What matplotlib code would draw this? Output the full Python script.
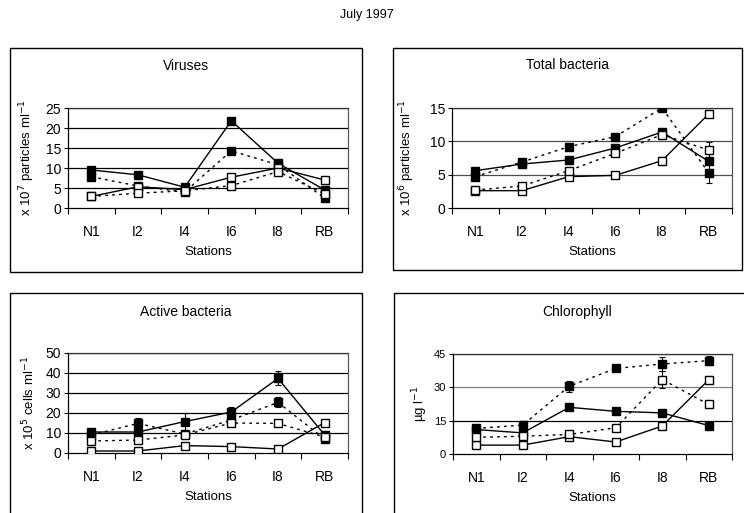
import numpy as np
import matplotlib
matplotlib.use("Agg")
import matplotlib.pyplot as plt
from matplotlib.patches import Rectangle

plt.rcParams["font.family"] = ["Liberation Sans", "DejaVu Sans"]

# ---------------------------------------------------------
# data
# ---------------------------------------------------------
stations = ["N1", "I2", "I4", "I6", "I8", "RB"]

# viruses (x 10^7 particles/ml)
vir_filled_solid = [9.5, 8.3, 5.2, 21.8, 11.2, 4.5]
vir_filled_dot   = [7.8, 5.5, 4.0, 14.3, 10.8, 2.5]
vir_open_solid   = [2.9, 5.3, 4.6, 7.7, 10.0, 7.0]
vir_open_dot     = [2.9, 3.7, 4.3, 5.6, 9.1, 3.5]

# total bacteria (x 10^6 particles/ml)
tot_filled_solid = [5.6, 6.6, 7.2, 9.0, 11.4, 7.0]
tot_filled_dot   = [4.7, 6.9, 9.2, 10.7, 15.0, 5.3]
tot_open_solid   = [2.6, 2.6, 4.7, 4.9, 7.1, 14.1]
tot_open_dot     = [2.7, 3.3, 5.6, 8.2, 11.0, 8.7]
tot_err_filled_solid = [0.3, 0.3, 0.3, 0.3, 0.3, 0.4]
tot_err_filled_dot   = [0.3, 0.3, 0.3, 0.3, 0.2, 1.5]
tot_err_open_solid   = [0.3, 0.3, 0.4, 0.3, 0.6, 0.3]
tot_err_open_dot     = [0.3, 0.5, 0.5, 0.4, 0.5, 1.2]

# active bacteria (x 10^5 cells/ml)
act_filled_solid = [10.5, 10.5, 15.7, 20.5, 37.3, 9.0]
act_filled_dot   = [9.0, 14.8, 9.5, 16.5, 25.3, 7.0]
act_open_solid   = [1.0, 1.0, 3.7, 3.2, 2.0, 15.2]
act_open_dot     = [6.0, 6.5, 9.0, 15.0, 14.8, 8.0]
act_err_filled_solid = [1.0, 1.0, 4.5, 2.5, 3.5, 1.0]
act_err_filled_dot   = [1.0, 2.5, 1.0, 1.0, 2.5, 1.0]
act_err_open_solid   = [0.6, 0.6, 0.8, 0.8, 0.6, 1.0]
act_err_open_dot     = [0.6, 0.8, 0.8, 0.8, 0.8, 0.8]

# chlorophyll (ug/l)
chl_filled_solid = [11.0, 9.5, 21.0, 19.2, 18.5, 12.8]
chl_filled_dot   = [11.5, 13.0, 30.5, 38.5, 40.5, 42.0]
chl_open_solid   = [4.0, 4.0, 7.8, 5.4, 12.6, 33.4]
chl_open_dot     = [7.5, 8.0, 8.8, 11.8, 33.5, 22.3]
chl_err_filled_solid = [0.8, 0.8, 1.0, 0.8, 0.8, 0.8]
chl_err_filled_dot   = [0.8, 2.0, 2.5, 0.8, 3.0, 2.0]
chl_err_open_solid   = [0.8, 0.8, 0.8, 0.8, 1.2, 1.5]
chl_err_open_dot     = [1.5, 0.8, 0.8, 1.0, 4.0, 1.5]

W, H = 744, 513
fig = plt.figure(figsize=(W / 100, H / 100), dpi=100)


def px_box(l, t, r, b):
    return [l / W, 1 - b / H, (r - l) / W, (b - t) / H]


def panel(box, frame, title, title_y, ylabel, ylim, yticks, series, errs,
          grid_colors, ylab_x, ytick_size=10):
    # outer frame of the panel
    fl, ft, fr, fb = frame
    fig.add_artist(Rectangle((fl / W, 1 - fb / H), (fr - fl) / W, (fb - ft) / H,
                             transform=fig.transFigure, fill=False,
                             edgecolor="black", lw=1.0))
    fig.text((fl + fr) / 2 / W, 1 - title_y / H, title, ha="center", va="center",
             fontsize=10)

    ax = fig.add_axes(px_box(*box))
    x = np.arange(len(stations))
    for yv, c in zip(yticks[1:], grid_colors):
        ax.axhline(yv, color=c, lw=0.9, zorder=1)

    styles = [("black", "-"), ("black", (0, (2, 3))),
              ("white", "-"), ("white", (0, (2, 3)))]
    for vals, err, (fc, ls) in zip(series, errs, styles):
        if err is not None:
            ax.errorbar(x, vals, yerr=err, fmt="none", ecolor="black",
                        elinewidth=0.8, capsize=2.5, capthick=0.8, zorder=3)
        ax.plot(x, vals, color="black", lw=1.0, ls=ls, marker="s",
                markersize=5.5, markerfacecolor=fc, markeredgecolor="black",
                markeredgewidth=1.0, zorder=4)

    ax.set_xlim(-0.5, len(stations) - 0.5)
    ax.set_ylim(*ylim)
    ax.set_yticks(yticks)
    ax.tick_params(axis="y", labelsize=ytick_size, length=3, width=0.8, pad=2)
    ax.set_xticks(x)
    ax.set_xticklabels(stations)
    ax.set_xticks(np.arange(-0.5, len(stations)), minor=True)
    ax.tick_params(axis="x", which="major", length=0, labelsize=10, pad=12)
    ax.tick_params(axis="x", which="minor", length=4, width=0.8)
    for sp in ax.spines.values():
        sp.set_linewidth(0.9)
    ax.spines["right"].set_color("0.35")
    ax.spines["top"].set_color("0.2")
    ax.set_xlabel("Stations", fontsize=9.5, labelpad=5)
    ax.set_ylabel(ylabel, fontsize=9.5)
    ax.yaxis.set_label_coords(ylab_x, 0.5)
    return ax


fig.text(367 / W, 1 - 15 / H, "July 1997", ha="center", va="center", fontsize=9)

panel((68, 108, 348, 208), (10, 48, 362, 272), "Viruses", 66,
      r"x 10$^{7}$ particles ml$^{-1}$", (0, 25), [0, 5, 10, 15, 20, 25],
      [vir_filled_solid, vir_filled_dot, vir_open_solid, vir_open_dot],
      [None, None, None, None], ["black"] * 5, -0.11)

panel((452, 108, 732, 208), (393, 48, 742, 270), "Total bacteria", 65,
      r"x 10$^{6}$ particles ml$^{-1}$", (0, 15), [0, 5, 10, 15],
      [tot_filled_solid, tot_filled_dot, tot_open_solid, tot_open_dot],
      [tot_err_filled_solid, tot_err_filled_dot, tot_err_open_solid, tot_err_open_dot],
      ["0.3", "0.3", "0.2"], -0.125)

panel((68, 353, 348, 453), (10, 293, 362, 530), "Active bacteria", 312,
      r"x 10$^{5}$ cells ml$^{-1}$", (0, 50), [0, 10, 20, 30, 40, 50],
      [act_filled_solid, act_filled_dot, act_open_solid, act_open_dot],
      [act_err_filled_solid, act_err_filled_dot, act_err_open_solid, act_err_open_dot],
      ["black"] * 5, -0.11)

panel((453, 354, 732, 454), (394, 293, 760, 530), "Chlorophyll", 312,
      r"µg l$^{-1}$", (0, 45), [0, 15, 30, 45],
      [chl_filled_solid, chl_filled_dot, chl_open_solid, chl_open_dot],
      [chl_err_filled_solid, chl_err_filled_dot, chl_err_open_solid, chl_err_open_dot],
      ["black", "0.5", "0.2"], -0.082, ytick_size=8)

fig.savefig("out.png", dpi=100)
